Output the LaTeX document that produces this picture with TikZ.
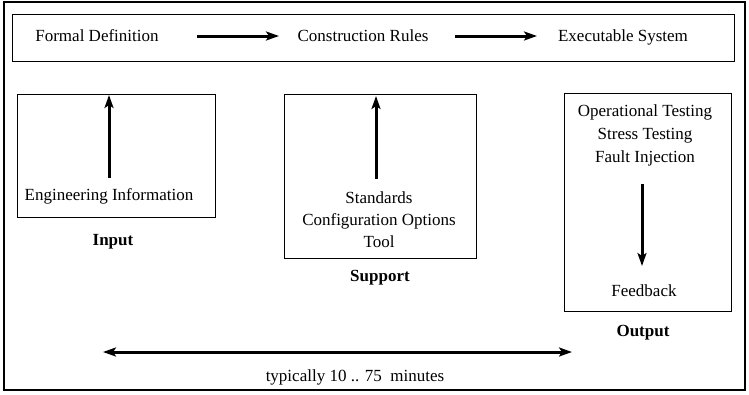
\documentclass[tikz,border=0pt]{standalone}
\usepackage{fontspec}
\setmainfont{Liberation Serif}
\usetikzlibrary{arrows.meta}
\begin{document}
\begin{tikzpicture}[x=1pt,y=-1pt,
  frame/.style={draw, line width=1pt},
  lbl/.style={font=\fontsize{17}{21}\selectfont, inner sep=0pt, anchor=base},
  head/.style={font=\fontsize{17}{21}\selectfont\bfseries, inner sep=0pt, anchor=base},
  flow/.style={line width=3pt, -{Stealth[length=13pt,width=9pt,inset=3pt]}},
  span/.style={line width=3pt, {Stealth[length=13pt,width=9pt,inset=3pt]}-{Stealth[length=13pt,width=9pt,inset=3pt]}}]
\useasboundingbox (0,0) rectangle (749,394);
% outer frame
\draw[line width=2pt] (4,2) rectangle (745,390);
% top process chain
\node[frame, minimum width=722pt, minimum height=47pt, anchor=north west] (chain) at (12,14) {};
\node[lbl] (def) at (97,41) {Formal Definition};
\node[lbl] (rules) at (363,41) {Construction Rules};
\node[lbl] (exec) at (623,41) {Executable System};
\coordinate (a1s) at (197,36); \coordinate (a1e) at (279,36);
\coordinate (a2s) at (455,36); \coordinate (a2e) at (537,36);
\draw[flow] (a1s) -- (a1e);
\draw[flow] (a2s) -- (a2e);
% input box
\node[frame, minimum width=198pt, minimum height=123pt, anchor=north west] (inbox) at (17,94) {};
\node[lbl] (eng) at (109,200) {Engineering Information};
\coordinate (inA) at (109,178); \coordinate (inB) at (109,95);
\draw[flow] (inA) -- (inB);
\node[head] (input) at (113,245) {Input};
% support box
\node[frame, minimum width=192pt, minimum height=164pt, anchor=north west] (supbox) at (284,94) {};
\node[lbl] (std) at (379,203) {Standards};
\node[lbl] (cfg) at (379,225) {Configuration Options};
\node[lbl] (tool) at (379,247) {Tool};
\coordinate (sA) at (376,179); \coordinate (sB) at (376,96);
\draw[flow] (sA) -- (sB);
\node[head] (support) at (380,281) {Support};
% output box
\node[frame, minimum width=167pt, minimum height=218pt, anchor=north west] (outbox) at (564,93) {};
\node[lbl] (optest) at (645,116) {Operational Testing};
\node[lbl] (stress) at (645,139) {Stress Testing};
\node[lbl] (fault) at (645,162) {Fault Injection};
\coordinate (oA) at (642,184); \coordinate (oB) at (642,266);
\draw[flow] (oA) -- (oB);
\node[lbl] (fb) at (644,296) {Feedback};
\node[head] (output) at (643,336) {Output};
% duration
\coordinate (dL) at (103,352); \coordinate (dR) at (572,352);
\draw[span] (dL) -- (dR);
\node[lbl] (dur) at (355,381) {typically 10 .. 75\ \ minutes};
\end{tikzpicture}
\end{document}
